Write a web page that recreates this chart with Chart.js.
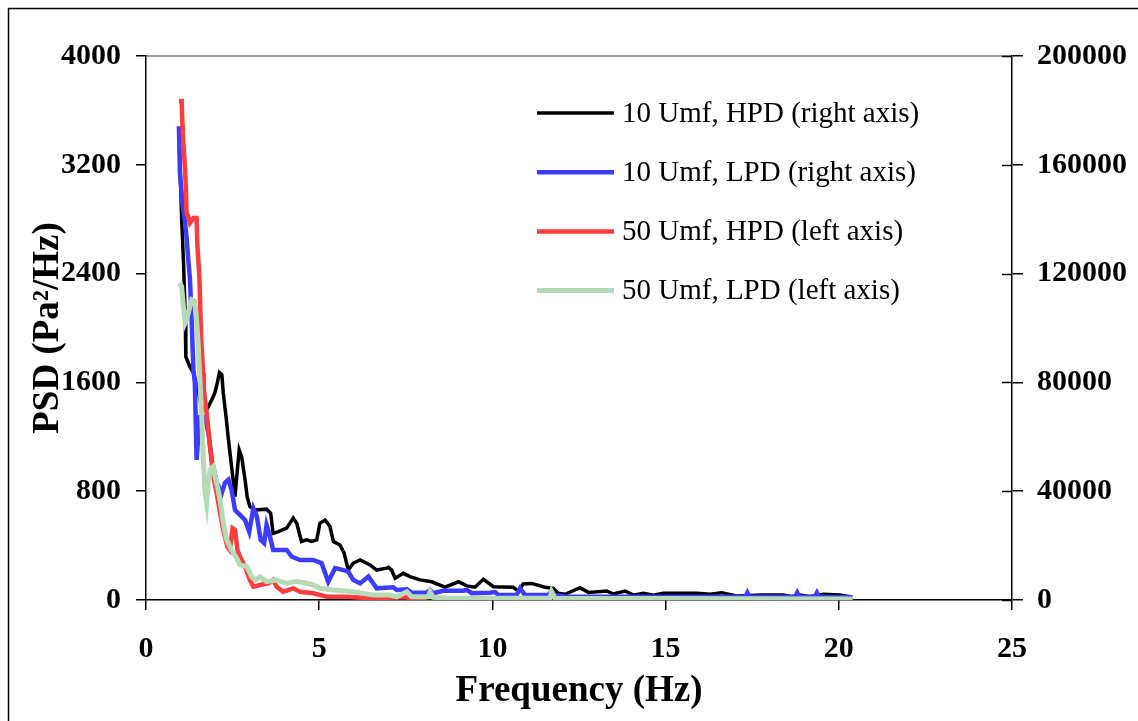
<!DOCTYPE html>
<html><head><meta charset="utf-8">
<script src="https://cdn.jsdelivr.net/npm/chart.js@4.4.1/dist/chart.umd.min.js"></script>
<style>html,body{margin:0;padding:0;background:#fff;} canvas{display:block;}</style>
</head><body>
<canvas id="c" width="1138" height="721"></canvas>
<script>
// ---- Data ----
const seriesLabels = ["10 Umf, HPD (right axis)", "10 Umf, LPD (right axis)", "50 Umf, HPD (left axis)", "50 Umf, LPD (left axis)"];

const hpd10Freq = [0.95,0.98,1.03,1.08,1.13,1.15,1.27,1.37,1.47,1.59,1.75,1.90,1.99,2.06,2.12,2.19,2.23,2.31,2.38,2.47,2.57,2.62,2.69,2.76,2.86,2.92,3.00,3.15,3.48,3.60,3.67,3.82,4.06,4.25,4.35,4.49,4.64,4.78,4.93,5.02,5.17,5.31,5.41,5.60,5.72,5.84,5.98,6.18,6.47,6.66,6.95,7.00,7.09,7.19,7.43,7.62,7.91,8.25,8.63,9.02,9.26,9.50,9.74,10.03,10.60,10.75,10.89,11.13,11.52,11.76,11.90,12.10,12.53,12.77,13.30,13.49,13.83,14.07,14.36,14.65,14.93,15.90,16.28,16.62,17.05,17.77,18.40,18.64,18.88,19.17,19.55,20.03,20.32];
const hpd10Psd = [173700,160800,139800,125100,105600,89400,85700,83500,79100,71800,69900,73600,76200,79900,83600,82800,76200,67500,58900,49100,38000,45400,55200,52700,44200,38000,34300,33100,33400,31900,24500,25100,26400,30100,28200,21500,22100,21500,22100,28200,29400,27000,21500,20200,17200,11000,13500,14700,12900,11000,11700,12000,11000,8000,9800,8600,7400,6700,4700,6700,5200,4700,7600,4900,4700,3300,5900,6100,4700,4300,2500,2100,4500,2800,3300,2200,3300,1800,2500,1800,2500,2500,2100,2700,1500,1800,1800,1200,1800,1200,2100,1800,1200];

const lpd10Freq = [0.95,0.98,1.05,1.13,1.17,1.22,1.27,1.32,1.37,1.41,1.46,1.51,1.56,1.70,1.80,1.90,2.04,2.19,2.28,2.38,2.47,2.57,2.71,2.86,2.98,3.10,3.20,3.31,3.41,3.48,3.58,3.67,4.06,4.21,4.45,4.83,5.07,5.26,5.46,5.70,5.84,5.98,6.18,6.42,6.56,6.66,7.14,7.24,7.53,7.67,8.10,8.20,8.29,8.58,9.16,9.26,9.40,9.93,10.08,10.17,10.70,10.80,10.94,11.61,11.71,11.81,12.15,17.30,17.36,17.42,18.74,18.80,18.86,19.31,19.37,19.43,20.40];
const lpd10Psd = [174200,157100,146100,138700,133600,125100,117800,101900,84600,79900,51500,60000,67300,67300,61500,51500,43100,39400,43100,44200,40500,33100,31300,29400,25100,33700,30700,22100,20900,27600,23300,18400,18400,15900,14700,14700,13500,6700,11700,11000,10400,7400,6100,8600,6100,4300,4700,3700,3900,2700,2700,3700,2500,3400,3400,3700,2500,2700,2900,1800,1800,4300,1800,1800,3100,1800,1200,1200,2700,1200,1200,2700,1200,1200,2700,1200,1000];

const hpd50Freq = [0.95,1.03,1.05,1.06,1.11,1.15,1.17,1.22,1.27,1.37,1.46,1.48,1.54,1.59,1.65,1.67,1.75,1.85,1.94,2.04,2.14,2.23,2.35,2.42,2.50,2.57,2.64,2.71,2.86,3.00,3.10,3.29,3.53,3.67,3.77,3.96,4.25,4.45,4.83,5.22,5.79,6.56,7.33,7.53,7.62,8.10];
const hpd50Psd = [3670,3670,3500,3435,3238,3042,2846,2821,2772,2809,2809,2625,2380,1938,1669,1546,1374,1128,908,785,638,515,392,368,528,515,368,319,245,147,98,110,123,147,98,61,86,61,49,24,24,12,20,20,5,5];

const lpd50Freq = [0.96,1.03,1.08,1.13,1.17,1.22,1.27,1.32,1.41,1.46,1.51,1.56,1.61,1.65,1.70,1.75,1.80,1.85,1.94,1.99,2.04,2.14,2.23,2.33,2.47,2.62,2.71,2.91,3.05,3.15,3.29,3.48,3.77,4.06,4.35,4.64,4.83,5.02,5.41,5.98,6.56,7.04,7.24,7.53,7.67,8.15,8.20,8.29,8.78,11.66,11.71,11.81,20.40];
const lpd50Psd = [2331,2306,2159,2037,2061,2110,2159,2208,2196,2061,1864,1595,1349,1055,810,712,859,957,981,908,859,736,565,442,368,307,258,245,171,147,171,135,147,123,135,123,110,86,74,61,37,37,24,61,24,24,61,20,12,12,61,12,7];

const xTitle = "Frequency (Hz)";
const yTitle = "PSD (Pa²/Hz)";

// ---- Chart ----
const FONT = "'Liberation Serif', 'Times New Roman', serif";
const pts = (fs, vs) => fs.map((f, i) => ({x: f, y: vs[i]}));

const deco = {
  id: 'deco',
  beforeDraw(chart) {
    const c = chart.ctx, a = chart.chartArea;
    c.save();
    c.fillStyle = '#fff'; c.fillRect(0, 0, chart.width, chart.height);
    c.strokeStyle = '#000'; c.lineWidth = 1.5;
    c.strokeRect(8.5, 8.5, 1300, 900);
    c.strokeStyle = '#9a9a9a'; c.lineWidth = 2;
    c.beginPath(); c.moveTo(a.left, a.top); c.lineTo(a.right, a.top); c.stroke();
    c.restore();
  },
  afterDraw(chart) {
    const c = chart.ctx, a = chart.chartArea;
    c.save();
    // inner half of right-axis tick marks
    const yR = chart.scales.yR;
    c.strokeStyle = '#000'; c.lineWidth = 1.5;
    yR.ticks.forEach((t, i) => {
      const y = Math.round(yR.getPixelForTick(i)) + 0.5;
      c.beginPath(); c.moveTo(a.right - 10, y); c.lineTo(a.right, y); c.stroke();
    });
    // legend
    const lx0 = 537, lx1 = 614, ly0 = 113, dy = 59.2;
    c.font = "29px " + FONT;
    c.textBaseline = 'middle';
    c.textAlign = 'left';
    chart.data.datasets.forEach((ds, i) => {
      const y = ly0 + dy * i;
      c.strokeStyle = ds.borderColor; c.lineWidth = ds.borderWidth;
      c.beginPath(); c.moveTo(lx0, y); c.lineTo(lx1, y); c.stroke();
      c.fillStyle = '#000';
      c.fillText(ds.label, 622, y + 1);
    });
    c.restore();
  }
};

const fixSize = (w, h) => (scale) => { if (w !== null) scale.width = w; if (h !== null) scale.height = h; };
const tickFont = {family: FONT, size: 30, weight: 'bold'};

new Chart(document.getElementById('c'), {
  type: 'line',
  data: {
    datasets: [
      {label: seriesLabels[0], data: pts(hpd10Freq, hpd10Psd), yAxisID: 'yR', borderColor: '#000000', borderWidth: 3.5, order: 4},
      {label: seriesLabels[1], data: pts(lpd10Freq, lpd10Psd), yAxisID: 'yR', borderColor: '#3c3cff', borderWidth: 4.5, order: 3},
      {label: seriesLabels[2], data: pts(hpd50Freq, hpd50Psd), yAxisID: 'yL', borderColor: '#ff3c3c', borderWidth: 4.5, order: 2},
      {label: seriesLabels[3], data: pts(lpd50Freq, lpd50Psd), yAxisID: 'yL', borderColor: '#b6dab6', borderWidth: 5, order: 1}
    ]
  },
  options: {
    responsive: false,
    animation: false,
    layout: {padding: {top: 56, left: 0, right: 0, bottom: 0}},
    elements: {point: {radius: 0}, line: {tension: 0}},
    plugins: {legend: {display: false}, tooltip: {enabled: false}},
    scales: {
      x: {
        type: 'linear', min: 0, max: 25,
        afterFit: fixSize(null, 121),
        border: {display: true, color: '#000', width: 1.5},
        grid: {drawOnChartArea: false, drawTicks: true, tickLength: 10, color: '#000', lineWidth: 1.5},
        ticks: {stepSize: 5, autoSkip: false, maxRotation: 0, padding: 21, color: '#000', font: tickFont, callback: v => String(v)},
        title: {display: true, text: xTitle, color: '#000', font: {family: FONT, size: 37, weight: 'bold'}, padding: {top: 0, bottom: 7}}
      },
      yL: {
        position: 'left', min: 0, max: 4000,
        afterFit: fixSize(146, null),
        border: {display: true, color: '#000', width: 1.5},
        grid: {drawOnChartArea: false, drawTicks: true, tickLength: 10, color: '#000', lineWidth: 1.5},
        ticks: {stepSize: 800, autoSkip: false, padding: 15, color: '#000', font: tickFont, callback: v => String(v)},
        title: {display: true, text: yTitle, color: '#000', font: {family: FONT, size: 37, weight: 'bold'}, padding: {top: 26, bottom: 0}}
      },
      yR: {
        position: 'right', min: 0, max: 200000,
        afterFit: fixSize(126, null),
        border: {display: true, color: '#000', width: 1.5},
        grid: {drawOnChartArea: false, drawTicks: true, tickLength: 11, color: '#000', lineWidth: 1.5},
        ticks: {stepSize: 40000, autoSkip: false, padding: 14, color: '#000', font: tickFont, callback: v => String(v)}
      }
    }
  },
  plugins: [deco]
});
</script>
</body></html>
